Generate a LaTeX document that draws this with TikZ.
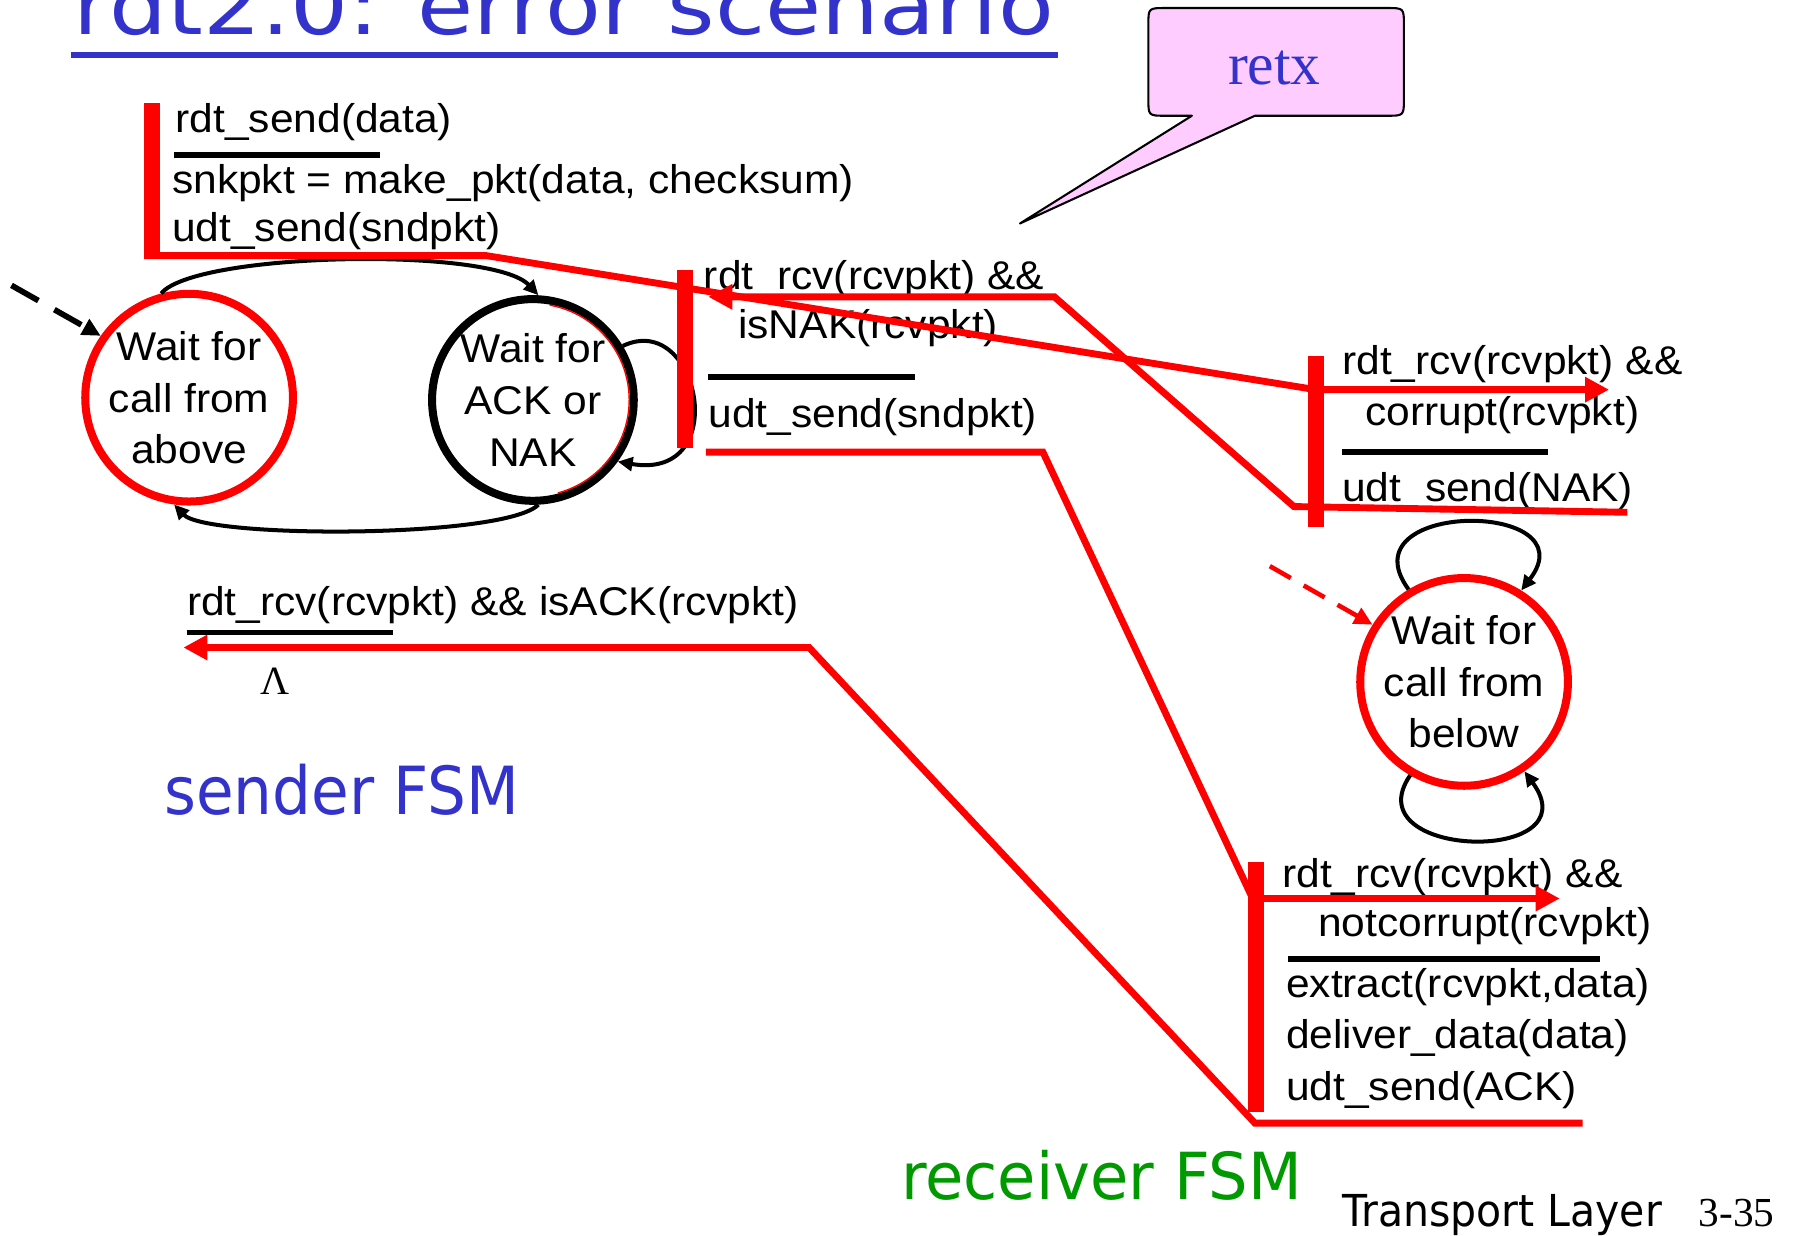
\documentclass[tikz,border=0pt]{standalone}
\usepackage{fontspec}
\usepackage{graphicx}
\setmainfont{Liberation Sans}[FakeStretch=1.06]
\newfontfamily\serifface{Liberation Serif}
\newfontfamily\comicface{DejaVu Sans}
\usetikzlibrary{arrows.meta}
\definecolor{slideblue}{RGB}{51,51,204}
\definecolor{recvgreen}{RGB}{0,153,0}
\definecolor{calloutpink}{RGB}{255,204,255}

\begin{document}
\begin{tikzpicture}[x=1pt, y=-1pt,
  lbl/.style={anchor=base west, inner sep=0pt, font=\fontsize{35}{42}\selectfont},
  fsmstate/.style={circle, draw, line width=7pt, minimum size=176pt, inner sep=0pt,
    align=center, font=\fontsize{35}{45}\selectfont},
  guard/.style={line width=5pt},
  redbar/.style={red, line width=14pt},
  redlink/.style={red, line width=6pt, line join=miter},
  redarrow/.style={redlink, -{Triangle[length=21pt,width=21pt]}},
  fsmarc/.style={line width=3.5pt, -{Triangle[length=13pt,width=12pt]}},
  initarrow/.style={line width=5pt, dash pattern=on 27pt off 16pt, -{Triangle[length=16pt,width=15pt]}},
  comic/.style={anchor=base west, inner sep=0pt},
]
\fill[white] (0,0) rectangle (1568,1078);
\useasboundingbox (0,0) rectangle (1568,1078);

% heading (its upper part runs past the top edge)
\node[comic, text=slideblue] (title) at (64,30.5)
  {\resizebox{855pt}{53pt}{\comicface rdt2.0: error scenario}};
\coordinate (ulA) at (62,48);
\coordinate (ulB) at (923,48);
\draw[slideblue, line width=4.5pt] (ulA) -- (ulB);

% states
\node[fsmstate, draw=red] (above) at (165,347) {Wait for\\call from\\above};
\node[fsmstate] (acknak) at (465,349) {Wait for\\ACK or\\NAK};
\draw[red, line width=1.2pt] ([shift={(-75:84pt)}]acknak.center)
  arc[start angle=-75, end angle=80, radius=84pt];
\node[fsmstate, draw=red] (below) at (1277.5,595) {Wait for\\call from\\below};

% sender state arcs
\draw[fsmarc] (above.105) .. controls (170,220) and (430,215) .. (acknak.87);
\draw[fsmarc] (acknak.-87) .. controls (440,470) and (180,470) .. (above.-98);
\draw[fsmarc] (acknak.31) .. controls (610,270) and (640,420) .. (acknak.-36);
% receiver self loops
\draw[fsmarc] (below.121) .. controls (1172,436) and (1388,436) .. (below.58);
\draw[fsmarc] (below.-120) .. controls (1180,750) and (1390,755) .. (below.-56);

% initial-state arrows
\coordinate (initS) at (10,249);
\draw[initarrow] (initS) -- (above.145);
\coordinate (initR) at (1108,494);
\draw[initarrow, red, line width=4pt, dash pattern=on 21pt off 13pt] (initR) -- (below.148);

% sender: rdt_send transition
\node[lbl] (t1a) at (153,116) {rdt\_send(data)};
\node[lbl] (t1b) at (150,169) {snkpkt = make\_pkt(data, checksum)};
\node[lbl] (t1c) at (150,211) {udt\_send(sndpkt)};
\coordinate (g1a) at (152,135); \coordinate (g1b) at (332,135);
\draw[guard] (g1a) -- (g1b);

% sender: NAK transition
\node[lbl] (t2a) at (614,253) {rdt\_rcv(rcvpkt) \&\&};
\node[lbl] (t2b) at (644,295) {isNAK(rcvpkt)};
\node[lbl] (t2c) at (618,373) {udt\_send(sndpkt)};
\coordinate (g2a) at (618,329); \coordinate (g2b) at (798,329);
\draw[guard] (g2a) -- (g2b);

% sender: ACK transition
\node[lbl] (t5a) at (163,537) {rdt\_rcv(rcvpkt) \&\& isACK(rcvpkt)};
\coordinate (g5a) at (163,552); \coordinate (g5b) at (343,552);
\draw[guard] (g5a) -- (g5b);
\node[anchor=base, inner sep=0pt, font=\serifface\fontsize{35}{35}\selectfont] (lam) at (240,606) {Λ};

% receiver: corrupt transition
\node[lbl] (t3a) at (1171,327) {rdt\_rcv(rcvpkt) \&\&};
\node[lbl] (t3b) at (1191,371) {corrupt(rcvpkt)};
\node[lbl] (t3c) at (1171,438) {udt\_send(NAK)};
\coordinate (g3a) at (1171,394.5); \coordinate (g3b) at (1351,394.5);
\draw[guard] (g3a) -- (g3b);

% receiver: notcorrupt transition
\node[lbl] (t4a) at (1118.6,774) {rdt\_rcv(rcvpkt) \&\&};
\node[lbl] (t4b) at (1150,817.5) {notcorrupt(rcvpkt)};
\node[lbl] (t4c) at (1122,870) {extract(rcvpkt,data)};
\node[lbl] (t4d) at (1122,915) {deliver\_data(data)};
\node[lbl] (t4e) at (1122,960) {udt\_send(ACK)};
\coordinate (g4a) at (1124,837); \coordinate (g4b) at (1396,837);
\draw[guard] (g4a) -- (g4b);

% transition bars
\coordinate (bar1t) at (133,90);    \coordinate (bar1b) at (133,226);
\coordinate (bar2t) at (598,236);   \coordinate (bar2b) at (598,391);
\coordinate (bar3t) at (1148,311);  \coordinate (bar3b) at (1148,460);
\coordinate (bar4t) at (1096,752);  \coordinate (bar4b) at (1096,970);
\draw[redbar] (bar1t) -- (bar1b);
\draw[redbar] (bar2t) -- (bar2b);
\draw[redbar] (bar3t) -- (bar3b);
\draw[redbar] (bar4t) -- (bar4b);

% packet (sender -> receiver, corrupted)
\coordinate (pA0) at (126,223);
\coordinate (pA1) at (424,223);
\coordinate (pA2) at (1148,340);
\coordinate (pA3) at (1404,340);
\draw[redarrow] (pA0) -- (pA1) -- (pA2) -- (pA3);

% NAK (receiver -> sender)
\coordinate (pB0) at (1420,447);
\coordinate (pB1) at (1129,442);
\coordinate (pB2) at (920,259);
\coordinate (pB3) at (618,259);
\draw[redarrow] (pB0) -- (pB1) -- (pB2) -- (pB3);

% retransmitted packet (sender -> receiver)
\coordinate (pC0) at (616,394.5);
\coordinate (pC1) at (910,394.5);
\coordinate (pC2) at (1093,784);
\coordinate (pC3) at (1361,784);
\draw[redarrow] (pC0) -- (pC1) -- (pC2) -- (pC3);

% ACK (receiver -> sender)
\coordinate (pD0) at (1381,980);
\coordinate (pD1) at (1095,980);
\coordinate (pD2) at (706,565);
\coordinate (pD3) at (160,565);
\draw[redarrow] (pD0) -- (pD1) -- (pD2) -- (pD3);

% retx callout
\draw[fill=calloutpink, line width=1.8pt, line join=round]
  (1040,101) -- (890,195) -- (1095,101) -- (1210,101)
  .. controls (1225,101) .. (1225,86) -- (1225,22)
  .. controls (1225,7) .. (1210,7) -- (1017,7)
  .. controls (1002,7) .. (1002,22) -- (1002,86)
  .. controls (1002,101) .. (1017,101) -- cycle;
\node[anchor=base, inner sep=0pt, text=slideblue, font=\serifface\fontsize{52}{52}\selectfont]
  (retx) at (1112,74) {retx};

% captions
\node[comic, text=slideblue] (sfsm) at (143,711) {\resizebox{310pt}{44pt}{\comicface sender FSM}};
\node[comic, text=recvgreen] (rfsm) at (786,1047) {\resizebox{350pt}{43pt}{\comicface receiver FSM}};
\node[comic] (chapter) at (1171,1070.5) {\resizebox{279pt}{28pt}{\comicface Transport Layer}};
\node[comic, font=\serifface\fontsize{36}{36}\selectfont] (pageno) at (1482,1070.5) {3-35};
\end{tikzpicture}
\end{document}
